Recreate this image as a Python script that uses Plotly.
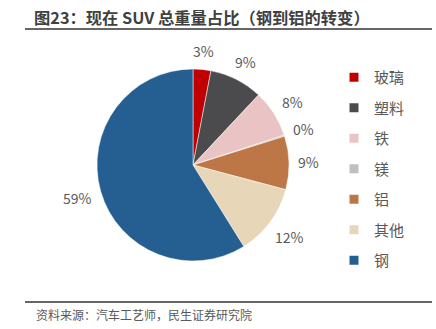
import math
import plotly.graph_objects as go

labels = ["玻璃", "塑料", "铁", "镁", "铝", "其他", "钢"]
values = [3, 9, 8, 0.2, 9, 12, 59]
colors = ["#C00000", "#4B4B4D", "#EAC4C4", "#BFBFBF", "#BD7645", "#E7D6B7", "#255E91"]

title_text = "图23：现在 SUV 总重量占比（钢到铝的转变）"
source_text = "资料来源：汽车工艺师，民生证券研究院"

W, H = 436, 329
FONT = "Noto Sans CJK SC"
LBL = 14

# pie geometry (pixels)
cx, cy, r = 193, 165, 96

fig = go.Figure()
fig.add_trace(go.Pie(
    labels=labels, values=values, sort=False, direction="clockwise", rotation=0,
    marker=dict(colors=colors, line=dict(color="white", width=0.5)),
    textinfo="none", showlegend=False,
    domain=dict(x=[(cx - r) / W, (cx + r) / W], y=[1 - (cy + r) / H, 1 - (cy - r) / H]),
))
for i, (lab, col) in enumerate(zip(labels, colors)):
    fig.add_trace(go.Scatter(
        x=[None], y=[None], mode="markers", name=lab,
        marker=dict(symbol="square", size=9, color=col),
        legendgroup="g%d" % i, showlegend=True,
    ))

# percentage labels placed just outside each slice (derived from the values)
total = sum(values)
annotations = []
cum = 0.0
for v in values:
    frac = v / total
    mid = (cum + frac / 2) * 2 * math.pi
    cum += frac
    txt = "%d%%" % round(frac * 100)
    w = (len(txt) - 1) * 0.56 * LBL + 0.85 * LBL
    hh = 8.5
    s, c = abs(math.sin(mid)), abs(math.cos(mid))
    d = min((w / 2) / s if s > 1e-6 else 1e9, hh / c if c > 1e-6 else 1e9)
    rr = r + 10 + d
    px = cx + rr * math.sin(mid)
    py = cy - rr * math.cos(mid)
    annotations.append(dict(text=txt, x=px / W, y=1 - py / H, xref="paper", yref="paper",
                            xanchor="center", yanchor="middle", showarrow=False,
                            font=dict(size=LBL, color="#595959", family=FONT)))

annotations.append(dict(text=source_text, x=34 / W, xanchor="left", y=1 - 314 / H,
                        yanchor="middle", xref="paper", yref="paper", showarrow=False,
                        font=dict(size=12, color="#595959", family=FONT)))

fig.update_layout(
    width=W, height=H, margin=dict(l=0, r=0, t=0, b=0),
    paper_bgcolor="white", plot_bgcolor="white",
    font=dict(family=FONT, color="#595959"),
    xaxis=dict(visible=False), yaxis=dict(visible=False),
    title=dict(text="<b>" + title_text + "</b>", x=34 / W, xanchor="left",
               y=1 - 18 / H, yanchor="middle", yref="container",
               font=dict(size=16.3, color="#404040", family=FONT)),
    legend=dict(x=334 / W, xanchor="left", y=1 - 61 / H, yanchor="top",
                font=dict(size=15, color="#595959", family=FONT),
                tracegroupgap=8, bgcolor="rgba(0,0,0,0)"),
    shapes=[
        dict(type="line", xref="paper", yref="paper", x0=25 / W, x1=432 / W,
             y0=1 - 29 / H, y1=1 - 29 / H, line=dict(color="#666666", width=2)),
        dict(type="line", xref="paper", yref="paper", x0=25 / W, x1=432 / W,
             y0=1 - 302 / H, y1=1 - 302 / H, line=dict(color="#666666", width=2)),
    ],
    annotations=annotations,
)
fig.write_html("out.html")
